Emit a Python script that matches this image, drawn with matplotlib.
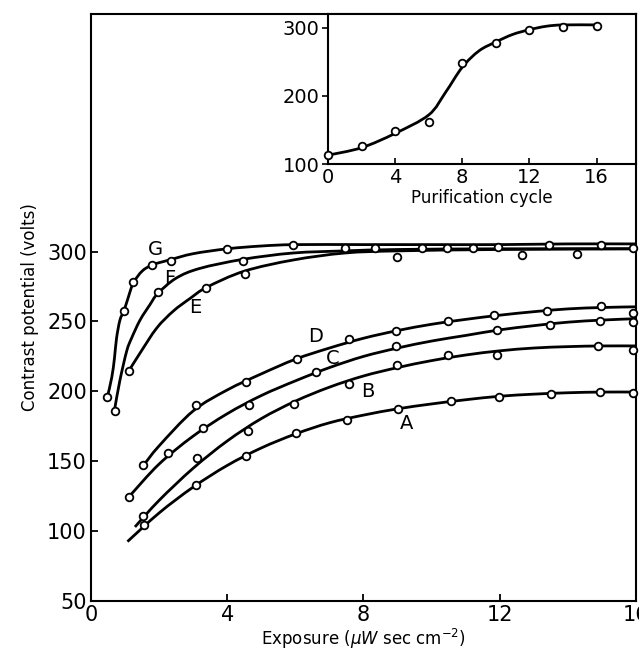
import matplotlib.pyplot as plt
from matplotlib.path import Path
from matplotlib.patches import PathPatch

# main panel: measured points (exposure, contrast potential)
a_x = [1.57, 3.08, 4.55, 6.01, 7.51, 9.02, 10.56, 11.98, 13.50, 14.94, 15.9]
a_y = [104.4, 132.9, 153.4, 170.1, 179.7, 187.5, 192.8, 196.3, 198.3, 199.5, 198.8]
b_x = [1.54, 3.10, 4.62, 5.97, 7.58, 8.99, 10.49, 11.93, 14.89, 15.9]
b_y = [111.1, 152.6, 171.3, 191.1, 205.4, 218.6, 225.7, 225.7, 232.2, 229.3]
c_x = [1.12, 2.27, 3.30, 4.65, 6.60, 8.94, 11.91, 13.48, 14.94, 15.9]
c_y = [124.7, 156.2, 174.1, 190.4, 213.8, 232.7, 243.6, 247.7, 250.6, 249.4]
d_x = [1.54, 3.08, 4.54, 6.04, 7.56, 8.94, 10.49, 11.84, 13.40, 14.96, 15.9]
d_y = [147.2, 190.4, 206.4, 223.1, 237.7, 243.4, 250.1, 254.6, 257.7, 261.3, 256.1]
e_x = [1.12, 3.37, 4.53, 8.34, 8.97, 10.44, 11.96, 12.64, 14.26]
e_y = [214.8, 274.0, 284.0, 302.6, 296.2, 302.6, 303.6, 297.9, 298.6]
f_x = [0.70, 1.96, 4.47, 7.46, 9.73, 11.22, 15.9]
f_y = [186.3, 271.1, 293.6, 302.6, 302.6, 302.6, 302.6]
g_x = [0.48, 0.98, 1.24, 1.80, 2.35, 3.98, 5.94, 13.46, 14.97]
g_y = [196.0, 257.7, 278.3, 290.2, 293.6, 302.1, 305.0, 305.0, 305.0]

# drawn (fitted) curves
a_cx = [1.07, 2, 3, 4, 5, 6, 7, 8, 9, 10, 11, 12, 13, 14, 15, 16]
a_cy = [92.5, 113, 131.5, 147, 159.5, 169.5, 177.5, 183, 187.5, 191, 194, 196.5,
        198, 199, 199.5, 199.5]
b_cx = [1.29, 2, 3, 4, 5, 6, 7, 8, 9, 10, 11, 12, 13, 14, 15, 16]
b_cy = [103, 122, 145, 164.5, 180.5, 193, 203, 211, 217, 222, 226, 229, 231, 232,
        232.5, 232.5]
c_cx = [1.12, 2, 3, 4, 5, 6, 7, 8, 9, 10, 11, 12, 13, 14, 15, 16]
c_cy = [124.7, 148, 168, 184, 197, 207.5, 217, 225, 231, 236, 240, 244, 247,
        249.5, 251, 252]
d_cx = [1.54, 2, 3, 4, 5, 6, 7, 8, 9, 10, 11, 12, 13, 14, 15, 16]
d_cy = [147, 161, 186, 201, 212.5, 223, 231, 238, 243.5, 248, 251.5, 254.5, 257,
        259, 260, 260.5]
e_cx = [1.12, 1.44, 1.93, 2.42, 2.91, 3.4, 4.5, 5.94, 7.46, 9, 12, 16]
e_cy = [215, 227.4, 245.3, 257.5, 266.5, 274.5, 286, 294, 299, 300.5, 301.5, 302]
f_cx = [0.70, 0.85, 1.05, 1.19, 1.44, 1.73, 1.96, 2.5, 3.2, 4.47, 5.94, 7.46, 9,
        12, 16]
f_cy = [188, 208, 229, 238, 251, 262, 270, 281, 288, 294.5, 299, 300.5, 301.5,
        302, 302]
g_cx = [0.48, 0.61, 0.69, 0.75, 0.85, 0.98, 1.15, 1.25, 1.5, 1.8, 2.3, 3, 4, 5,
        6, 8, 10, 12, 14, 16]
g_cy = [196, 210, 224, 238, 251, 258.5, 271.6, 278, 286, 290.5, 294, 298.5, 302,
        304, 305, 305, 305, 305, 305.5, 305.5]

labels = ['A', 'B', 'C', 'D', 'E', 'F', 'G']
label_x = [9.27, 8.14, 7.11, 6.58, 3.05, 2.32, 1.88]
label_y = [177.3, 200.0, 223.8, 239.3, 260.0, 280.7, 301.4]

# inset: purification cycle
cyc_x = [0, 2, 4, 6, 8, 10, 12, 14, 16]
cyc_y = [113, 127, 149, 162, 248, 277, 297, 301, 303]
cyc_cx = [0, 2, 4, 6, 7, 8, 9, 10, 11, 12, 13, 14, 16]
cyc_cy = [113, 124, 145, 172, 205, 242, 266, 279, 290, 297, 302, 304, 304]


def glatt(achse, xs, ys):
    # draws a smooth curve through the read points (Catmull-Rom as Bezier path)
    pts = list(zip(xs, ys))
    verts = [pts[0]]
    codes = [Path.MOVETO]
    n = len(pts)
    for i in range(n - 1):
        p0 = pts[max(i - 1, 0)]
        p1 = pts[i]
        p2 = pts[i + 1]
        p3 = pts[min(i + 2, n - 1)]
        c1 = (p1[0] + (p2[0] - p0[0]) / 6, p1[1] + (p2[1] - p0[1]) / 6)
        c2 = (p2[0] - (p3[0] - p1[0]) / 6, p2[1] - (p3[1] - p1[1]) / 6)
        verts += [c1, c2, p2]
        codes += [Path.CURVE4, Path.CURVE4, Path.CURVE4]
    achse.add_patch(PathPatch(Path(verts, codes), fill=False, lw=2.0,
                              edgecolor='black', clip_on=False, capstyle='butt'))


plt.rcParams['font.family'] = 'DejaVu Sans'

fig = plt.figure(figsize=(6.39, 6.51), dpi=100)
ax = fig.add_axes([0.1424, 0.0768, 0.8529, 0.9017])

punkte = [(a_x, a_y), (b_x, b_y), (c_x, c_y), (d_x, d_y), (e_x, e_y), (f_x, f_y), (g_x, g_y)]
kurven = [(a_cx, a_cy), (b_cx, b_cy), (c_cx, c_cy), (d_cx, d_cy), (e_cx, e_cy),
          (f_cx, f_cy), (g_cx, g_cy)]

for cx, cy in kurven:
    glatt(ax, cx, cy)
for px, py in punkte:
    ax.plot(px, py, 'o', ms=5.5, mfc='white', mec='black', mew=1.3, clip_on=False, zorder=3)
for i in range(len(labels)):
    ax.text(label_x[i], label_y[i], labels[i], fontsize=14, ha='center', va='center')

ax.set_xlim(0, 16)
ax.set_ylim(50, 470)
ax.set_xticks([0, 4, 8, 12, 16])
ax.set_yticks([50, 100, 150, 200, 250, 300])
ax.tick_params(direction='in', length=5, width=1.3, labelsize=15, pad=3)
for s in ax.spines.values():
    s.set_linewidth(1.5)
ax.set_xlabel(r'Exposure ($\mu W$ sec cm$^{-2}$)', fontsize=12, labelpad=1)
ax.set_ylabel('Contrast potential (volts)', fontsize=12, labelpad=6)

# inset
ins = fig.add_axes([0.5133, 0.748, 0.482, 0.2305])
glatt(ins, cyc_cx, cyc_cy)
ins.plot(cyc_x, cyc_y, 'o', ms=5.5, mfc='white', mec='black', mew=1.3, clip_on=False, zorder=3)
ins.set_xlim(0, 18.35)
ins.set_ylim(100, 320)
ins.set_xticks([0, 4, 8, 12, 16])
ins.set_yticks([100, 200, 300])
ins.tick_params(axis='x', direction='in', length=4, width=1.2, labelsize=14, pad=3)
ins.tick_params(axis='y', direction='out', length=4, width=1.2, labelsize=14, pad=2)
for s in ins.spines.values():
    s.set_linewidth(1.5)
ins.set_xlabel('Purification cycle', fontsize=12, labelpad=1)

plt.savefig('out.png', dpi=100)
